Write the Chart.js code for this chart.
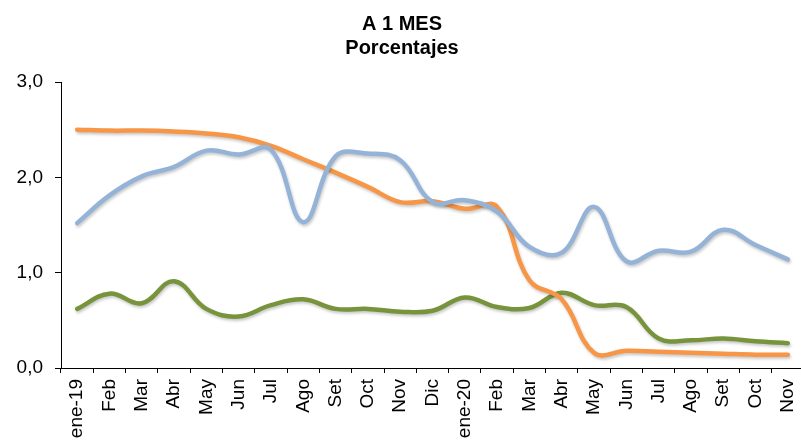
<!DOCTYPE html>
<html>
<head>
<meta charset="utf-8">
<title>A 1 MES</title>
<script src="https://cdn.jsdelivr.net/npm/chart.js@4"></script>
<style>
  html, body { margin: 0; padding: 0; background: #fff; overflow: hidden; }
  .wrap { width: 801px; height: 443px; overflow: hidden; }
</style>
</head>
<body>
<div class="wrap">
  <canvas id="myChart" width="840" height="443"></canvas>
</div>
<script>
const months = ['ene-19', 'Feb', 'Mar', 'Abr', 'May', 'Jun', 'Jul', 'Ago', 'Set', 'Oct', 'Nov', 'Dic',
                'ene-20', 'Feb', 'Mar', 'Abr', 'May', 'Jun', 'Jul', 'Ago', 'Set', 'Oct', 'Nov'];

const serieAzul = [1.52, 1.81, 2.01, 2.11, 2.28, 2.24, 2.29, 1.53, 2.22, 2.25, 2.18, 1.74,
                   1.76, 1.64, 1.27, 1.21, 1.69, 1.12, 1.23, 1.22, 1.45, 1.29, 1.14];
const serieNaranja = [2.50, 2.49, 2.49, 2.48, 2.46, 2.42, 2.33, 2.19, 2.05, 1.90, 1.74, 1.75,
                      1.67, 1.69, 0.92, 0.72, 0.16, 0.18, 0.17, 0.16, 0.15, 0.14, 0.14];
const serieVerde = [0.62, 0.78, 0.68, 0.91, 0.62, 0.54, 0.66, 0.72, 0.62, 0.62, 0.59, 0.60,
                    0.74, 0.64, 0.63, 0.79, 0.66, 0.64, 0.31, 0.29, 0.31, 0.28, 0.26];

const yTicks = [0, 1, 2, 3];

// soft drop shadow under each line
const lineShadow = {
  id: 'lineShadow',
  beforeDatasetDraw(chart) {
    const ctx = chart.ctx;
    ctx.save();
    ctx.shadowColor = 'rgba(0,0,0,0.22)';
    ctx.shadowBlur = 3;
    ctx.shadowOffsetX = 1;
    ctx.shadowOffsetY = 2;
  },
  afterDatasetDraw(chart) {
    chart.ctx.restore();
  }
};

function serie(data, color) {
  return {
    data: data,
    borderColor: color,
    backgroundColor: color,
    borderWidth: 4.5,
    pointRadius: 0,
    tension: 0.4,
    borderCapStyle: 'round',
    fill: false
  };
}

const ctx = document.getElementById('myChart');

new Chart(ctx, {
  type: 'line',
  data: {
    labels: months,
    datasets: [
      serie(serieAzul, '#95B3D7'),
      serie(serieNaranja, '#F79646'),
      serie(serieVerde, '#77933C')
    ]
  },
  options: {
    responsive: false,
    animation: false,
    layout: { padding: { left: 0, right: 36, top: 0, bottom: 0 } },
    plugins: {
      legend: { display: false },
      tooltip: { enabled: false },
      title: {
        display: true,
        text: ['A 1 MES', 'Porcentajes'],
        color: '#000',
        font: { family: 'Arial, "Liberation Sans"', size: 20, weight: 'bold', lineHeight: 1.2 },
        padding: { top: 12, bottom: 22 }
      }
    },
    scales: {
      x: {
        offset: true,
        afterFit(scale) { scale.height = 75; },
        grid: { offset: true, drawOnChartArea: false, color: '#000', tickLength: 5 },
        border: { color: '#000', width: 1 },
        ticks: {
          autoSkip: false,
          minRotation: 90,
          maxRotation: 90,
          padding: 6,
          color: '#000',
          font: { family: 'Arial, "Liberation Sans"', size: 19 }
        }
      },
      y: {
        min: 0,
        max: 3,
        afterFit(scale) { scale.width = 61; },
        afterBuildTicks(scale) { scale.ticks = yTicks.map(v => ({ value: v })); },
        grid: { drawOnChartArea: false, color: '#000', tickLength: 6 },
        border: { color: '#000', width: 1 },
        ticks: {
          padding: 12,
          color: '#000',
          font: { family: 'Arial, "Liberation Sans"', size: 19 },
          callback: v => v.toFixed(1).replace('.', ',')
        }
      }
    }
  },
  plugins: [lineShadow]
});
</script>
</body>
</html>
